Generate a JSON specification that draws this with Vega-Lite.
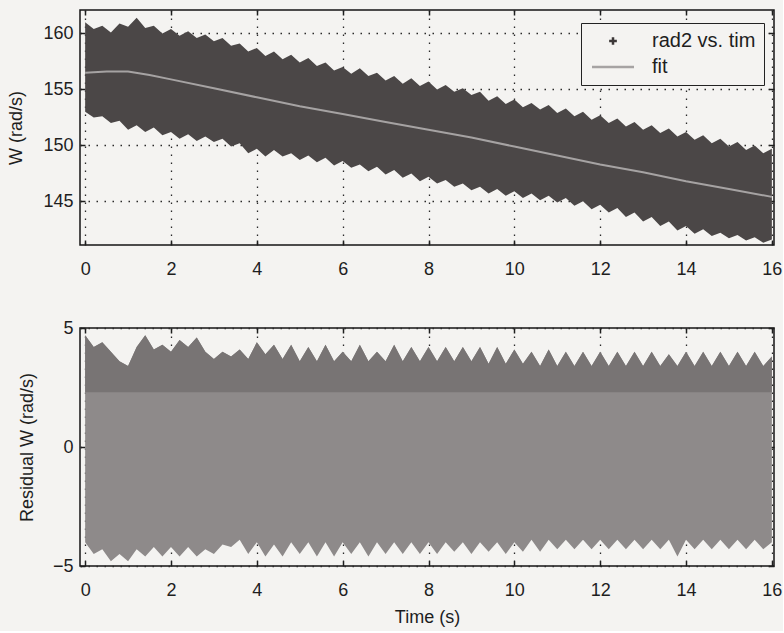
{
  "$schema": "https://vega.github.io/schema/vega-lite/v6.json",
  "background": "#f4f3f1",
  "padding": {"left": 7, "top": 8, "right": 0, "bottom": 4},
  "datasets": {
    "band": [
      {"t":0,"upper":161.0,"lower":153.0},{"t":0.2,"upper":160.4,"lower":152.5},{"t":0.4,"upper":160.7,"lower":152.6},{"t":0.6,"upper":160.1,"lower":152.0},{"t":0.8,"upper":160.9,"lower":152.2},
      {"t":1.0,"upper":160.6,"lower":151.4},{"t":1.2,"upper":161.4,"lower":151.8},{"t":1.4,"upper":160.5,"lower":151.2},{"t":1.6,"upper":160.7,"lower":151.6},{"t":1.8,"upper":160.0,"lower":150.9},
      {"t":2.0,"upper":160.4,"lower":151.2},{"t":2.2,"upper":159.8,"lower":150.6},{"t":2.4,"upper":160.2,"lower":151.0},{"t":2.6,"upper":159.6,"lower":150.4},{"t":2.8,"upper":159.9,"lower":150.8},
      {"t":3.0,"upper":159.3,"lower":150.3},{"t":3.2,"upper":159.6,"lower":150.6},{"t":3.4,"upper":158.9,"lower":149.9},{"t":3.6,"upper":159.1,"lower":150.2},{"t":3.8,"upper":158.4,"lower":149.3},
      {"t":4.0,"upper":158.7,"lower":149.7},{"t":4.2,"upper":158.0,"lower":149.0},{"t":4.4,"upper":158.4,"lower":149.6},{"t":4.6,"upper":157.7,"lower":149.0},{"t":4.8,"upper":158.1,"lower":149.3},
      {"t":5.0,"upper":157.4,"lower":148.7},{"t":5.2,"upper":157.8,"lower":149.1},{"t":5.4,"upper":157.1,"lower":148.5},{"t":5.6,"upper":157.4,"lower":148.9},{"t":5.8,"upper":156.7,"lower":148.2},
      {"t":6.0,"upper":157.0,"lower":148.6},{"t":6.2,"upper":156.4,"lower":148.0},{"t":6.4,"upper":156.9,"lower":148.3},{"t":6.6,"upper":156.2,"lower":147.7},{"t":6.8,"upper":156.5,"lower":148.1},
      {"t":7.0,"upper":155.8,"lower":147.4},{"t":7.2,"upper":156.2,"lower":147.8},{"t":7.4,"upper":155.5,"lower":147.1},{"t":7.6,"upper":156.0,"lower":147.5},{"t":7.8,"upper":155.3,"lower":146.8},
      {"t":8.0,"upper":155.7,"lower":147.2},{"t":8.2,"upper":155.0,"lower":146.6},{"t":8.4,"upper":155.4,"lower":146.9},{"t":8.6,"upper":154.8,"lower":146.3},{"t":8.8,"upper":155.1,"lower":146.6},
      {"t":9.0,"upper":154.5,"lower":146.0},{"t":9.2,"upper":154.8,"lower":146.3},{"t":9.4,"upper":154.0,"lower":145.7},{"t":9.6,"upper":154.4,"lower":146.1},{"t":9.8,"upper":153.7,"lower":145.5},
      {"t":10.0,"upper":154.1,"lower":145.9},{"t":10.2,"upper":153.4,"lower":145.3},{"t":10.4,"upper":153.8,"lower":145.7},{"t":10.6,"upper":153.2,"lower":145.1},{"t":10.8,"upper":153.6,"lower":145.5},
      {"t":11.0,"upper":152.9,"lower":144.9},{"t":11.2,"upper":153.3,"lower":145.3},{"t":11.4,"upper":152.6,"lower":144.6},{"t":11.6,"upper":153.0,"lower":145.0},{"t":11.8,"upper":152.3,"lower":144.3},
      {"t":12.0,"upper":152.7,"lower":144.7},{"t":12.2,"upper":152.0,"lower":144.0},{"t":12.4,"upper":152.4,"lower":144.4},{"t":12.6,"upper":151.7,"lower":143.6},{"t":12.8,"upper":152.1,"lower":144.0},
      {"t":13.0,"upper":151.4,"lower":143.2},{"t":13.2,"upper":151.8,"lower":143.6},{"t":13.4,"upper":151.1,"lower":142.8},{"t":13.6,"upper":151.5,"lower":143.2},{"t":13.8,"upper":150.8,"lower":142.4},
      {"t":14.0,"upper":151.2,"lower":142.8},{"t":14.2,"upper":150.5,"lower":142.1},{"t":14.4,"upper":150.9,"lower":142.5},{"t":14.6,"upper":150.2,"lower":141.9},{"t":14.8,"upper":150.6,"lower":142.2},
      {"t":15.0,"upper":149.9,"lower":141.7},{"t":15.2,"upper":150.3,"lower":142.0},{"t":15.4,"upper":149.6,"lower":141.5},{"t":15.6,"upper":150.0,"lower":141.8},{"t":15.8,"upper":149.3,"lower":141.3},
      {"t":16.0,"upper":149.7,"lower":141.6}
    ],
    "fit": [
      {"t":0,"fit":156.5},{"t":0.5,"fit":156.6},{"t":1,"fit":156.6},{"t":1.5,"fit":156.3},{"t":2,"fit":155.9},
      {"t":3,"fit":155.1},{"t":4,"fit":154.3},{"t":5,"fit":153.5},{"t":6,"fit":152.8},{"t":7,"fit":152.1},
      {"t":8,"fit":151.4},{"t":9,"fit":150.7},{"t":10,"fit":149.9},{"t":11,"fit":149.1},{"t":12,"fit":148.3},
      {"t":13,"fit":147.6},{"t":14,"fit":146.8},{"t":15,"fit":146.1},{"t":16,"fit":145.4}
    ],
    "legend": [
      {"series":"rad2 vs. tim","t":8,"w":150},
      {"series":"fit","t":8,"w":150}
    ],
    "resid": [
      {"t":0,"hi":4.7,"lo":-4.0},{"t":0.2,"hi":4.2,"lo":-4.5},{"t":0.4,"hi":4.4,"lo":-4.3},{"t":0.6,"hi":4.0,"lo":-4.8},{"t":0.8,"hi":3.6,"lo":-4.5},
      {"t":1.0,"hi":3.4,"lo":-4.8},{"t":1.2,"hi":4.2,"lo":-4.3},{"t":1.4,"hi":4.7,"lo":-4.6},{"t":1.6,"hi":4.1,"lo":-4.2},{"t":1.8,"hi":4.3,"lo":-4.6},
      {"t":2.0,"hi":4.0,"lo":-4.2},{"t":2.2,"hi":4.5,"lo":-4.6},{"t":2.4,"hi":4.2,"lo":-4.2},{"t":2.6,"hi":4.6,"lo":-4.6},{"t":2.8,"hi":4.0,"lo":-4.3},
      {"t":3.0,"hi":3.7,"lo":-4.5},{"t":3.2,"hi":4.0,"lo":-4.1},{"t":3.4,"hi":3.8,"lo":-4.2},{"t":3.6,"hi":4.1,"lo":-3.9},{"t":3.8,"hi":3.7,"lo":-4.5},
      {"t":4.0,"hi":4.4,"lo":-4.0},{"t":4.2,"hi":3.9,"lo":-4.6},{"t":4.4,"hi":4.3,"lo":-4.1},{"t":4.6,"hi":3.7,"lo":-4.6},{"t":4.8,"hi":4.3,"lo":-4.0},
      {"t":5.0,"hi":3.6,"lo":-4.5},{"t":5.2,"hi":4.2,"lo":-4.0},{"t":5.4,"hi":3.6,"lo":-4.6},{"t":5.6,"hi":4.3,"lo":-4.0},{"t":5.8,"hi":3.6,"lo":-4.6},
      {"t":6.0,"hi":4.0,"lo":-4.0},{"t":6.2,"hi":3.6,"lo":-4.5},{"t":6.4,"hi":4.3,"lo":-4.0},{"t":6.6,"hi":3.6,"lo":-4.6},{"t":6.8,"hi":4.0,"lo":-4.0},
      {"t":7.0,"hi":3.6,"lo":-4.5},{"t":7.2,"hi":4.3,"lo":-4.0},{"t":7.4,"hi":3.6,"lo":-4.5},{"t":7.6,"hi":4.2,"lo":-4.0},{"t":7.8,"hi":3.6,"lo":-4.5},
      {"t":8.0,"hi":4.2,"lo":-4.0},{"t":8.2,"hi":3.6,"lo":-4.5},{"t":8.4,"hi":4.2,"lo":-4.0},{"t":8.6,"hi":3.6,"lo":-4.4},{"t":8.8,"hi":4.2,"lo":-4.0},
      {"t":9.0,"hi":3.6,"lo":-4.5},{"t":9.2,"hi":4.2,"lo":-4.0},{"t":9.4,"hi":3.5,"lo":-4.4},{"t":9.6,"hi":4.2,"lo":-4.0},{"t":9.8,"hi":3.5,"lo":-4.5},
      {"t":10.0,"hi":4.1,"lo":-4.0},{"t":10.2,"hi":3.5,"lo":-4.4},{"t":10.4,"hi":4.0,"lo":-3.9},{"t":10.6,"hi":3.4,"lo":-4.4},{"t":10.8,"hi":4.1,"lo":-3.9},
      {"t":11.0,"hi":3.4,"lo":-4.3},{"t":11.2,"hi":4.0,"lo":-3.9},{"t":11.4,"hi":3.4,"lo":-4.3},{"t":11.6,"hi":4.0,"lo":-3.9},{"t":11.8,"hi":3.4,"lo":-4.3},
      {"t":12.0,"hi":4.0,"lo":-3.9},{"t":12.2,"hi":3.4,"lo":-4.3},{"t":12.4,"hi":4.0,"lo":-3.9},{"t":12.6,"hi":3.4,"lo":-4.3},{"t":12.8,"hi":4.0,"lo":-3.9},
      {"t":13.0,"hi":3.4,"lo":-4.3},{"t":13.2,"hi":4.0,"lo":-3.9},{"t":13.4,"hi":3.4,"lo":-4.3},{"t":13.6,"hi":3.9,"lo":-3.9},{"t":13.8,"hi":3.4,"lo":-4.6},
      {"t":14.0,"hi":4.0,"lo":-3.9},{"t":14.2,"hi":3.4,"lo":-4.3},{"t":14.4,"hi":4.0,"lo":-3.9},{"t":14.6,"hi":3.4,"lo":-4.3},{"t":14.8,"hi":4.0,"lo":-3.9},
      {"t":15.0,"hi":3.4,"lo":-4.3},{"t":15.2,"hi":4.0,"lo":-3.9},{"t":15.4,"hi":3.4,"lo":-4.3},{"t":15.6,"hi":4.0,"lo":-3.9},{"t":15.8,"hi":3.4,"lo":-4.3},
      {"t":16.0,"hi":3.8,"lo":-4.0}
    ]
  },
  "vconcat": [
    {
      "width": 694,
      "height": 235,
      "layer": [
        {
          "data": {"name": "band"},
          "mark": {"type": "area", "color": "#4b4747", "clip": true},
          "encoding": {
            "x": {"field": "t", "type": "quantitative", "scale": {"domain": [-0.12, 16.05], "nice": false, "zero": false},
                  "axis": {"orient": "bottom", "title": null, "values": [0,2,4,6,8,10,12,14,16], "grid": true, "labelPadding": 20}},
            "y": {"field": "upper", "type": "quantitative", "scale": {"domain": [141.1, 162.1], "nice": false, "zero": false},
                  "axis": {"orient": "left", "title": "W (rad/s)", "values": [145,150,155,160], "grid": true, "labelPadding": 12, "titlePadding": 17}},
            "y2": {"field": "lower"}
          }
        },
        {
          "data": {"name": "fit"},
          "mark": {"type": "line", "color": "#a6a3a3", "strokeWidth": 2, "clip": true},
          "encoding": {
            "x": {"field": "t", "type": "quantitative", "axis": {"orient": "top", "title": null, "labels": false, "grid": false, "values": [0,2,4,6,8,10,12,14,16]}},
            "y": {"field": "fit", "type": "quantitative", "axis": {"orient": "right", "title": null, "labels": false, "grid": false, "values": [145,150,155,160]}}
          }
        },
        {
          "data": {"name": "legend"},
          "mark": {"type": "point", "filled": false, "opacity": 0, "strokeWidth": 2},
          "encoding": {
            "x": {"field": "t", "type": "quantitative", "axis": null},
            "y": {"field": "w", "type": "quantitative", "axis": null},
            "color": {"field": "series", "type": "nominal", "scale": {"domain": ["rad2 vs. tim", "fit"], "range": ["#3c3838", "#a6a3a3"]},
                      "legend": {"title": null, "orient": "none", "legendX": 501, "legendY": 13, "strokeColor": "#222", "fillColor": "#f4f3f1", "padding": 8, "rowPadding": 6, "labelFontSize": 20, "labelFont": "Liberation Sans", "labelColor": "#1e1e1e", "labelOffset": 43, "symbolOpacity": 1, "symbolStrokeWidth": 2.5, "symbolSize": 196, "labelExpr": "datum.label + '  '"}},
            "shape": {"field": "series", "type": "nominal", "scale": {"domain": ["rad2 vs. tim", "fit"], "range": ["M1.45,0L2.55,0M2,-0.55L2,0.55", "M-1,0L5,0"]}}
          }
        }
      ],
      "resolve": {"axis": {"x": "independent", "y": "independent"}}
    },
    {
      "width": 694,
      "height": 238,
      "data": {"name": "resid"},
      "layer": [
        {
          "mark": {"type": "area", "color": "#8e8a8a", "clip": true},
          "encoding": {
            "x": {"field": "t", "type": "quantitative", "scale": {"domain": [-0.12, 16.05], "nice": false, "zero": false},
                  "axis": {"orient": "bottom", "title": "Time (s)", "values": [0,2,4,6,8,10,12,14,16], "grid": true, "labelPadding": 20, "titlePadding": 9}},
            "y": {"field": "hi", "type": "quantitative", "scale": {"domain": [-5, 5], "nice": false, "zero": false},
                  "axis": {"orient": "left", "title": "Residual W (rad/s)", "values": [-5,0,5], "grid": true, "labelPadding": 12, "titlePadding": 16}},
            "y2": {"field": "lo"}
          }
        },
        {
          "mark": {"type": "area", "color": "#787474", "clip": true},
          "encoding": {
            "x": {"field": "t", "type": "quantitative", "axis": {"orient": "top", "title": null, "labels": false, "grid": false, "values": [0,2,4,6,8,10,12,14,16]}},
            "y": {"field": "hi", "type": "quantitative", "axis": {"orient": "right", "title": null, "labels": false, "grid": false, "values": [-5,0,5]}},
            "y2": {"datum": 2.3}
          }
        }
      ],
      "resolve": {"axis": {"x": "independent", "y": "independent"}}
    }
  ],
  "spacing": 39,
  "config": {
    "font": "Liberation Sans",
    "view": {"stroke": "#141414", "strokeWidth": 1.5},
    "axis": {
      "labelFont": "Liberation Sans", "labelFontSize": 18, "labelColor": "#1e1e1e",
      "titleFont": "Liberation Sans", "titleFontSize": 18, "titleFontWeight": "normal", "titleColor": "#1e1e1e",
      "domain": false, "tickColor": "#1e1e1e", "tickWidth": 1.5, "tickSize": -5,
      "gridColor": "#2a2a2a", "gridDash": [1.5, 6.5], "gridWidth": 1.3, "gridOpacity": 1,
      "labelFlush": false, "labelOverlap": false
    }
  }
}
